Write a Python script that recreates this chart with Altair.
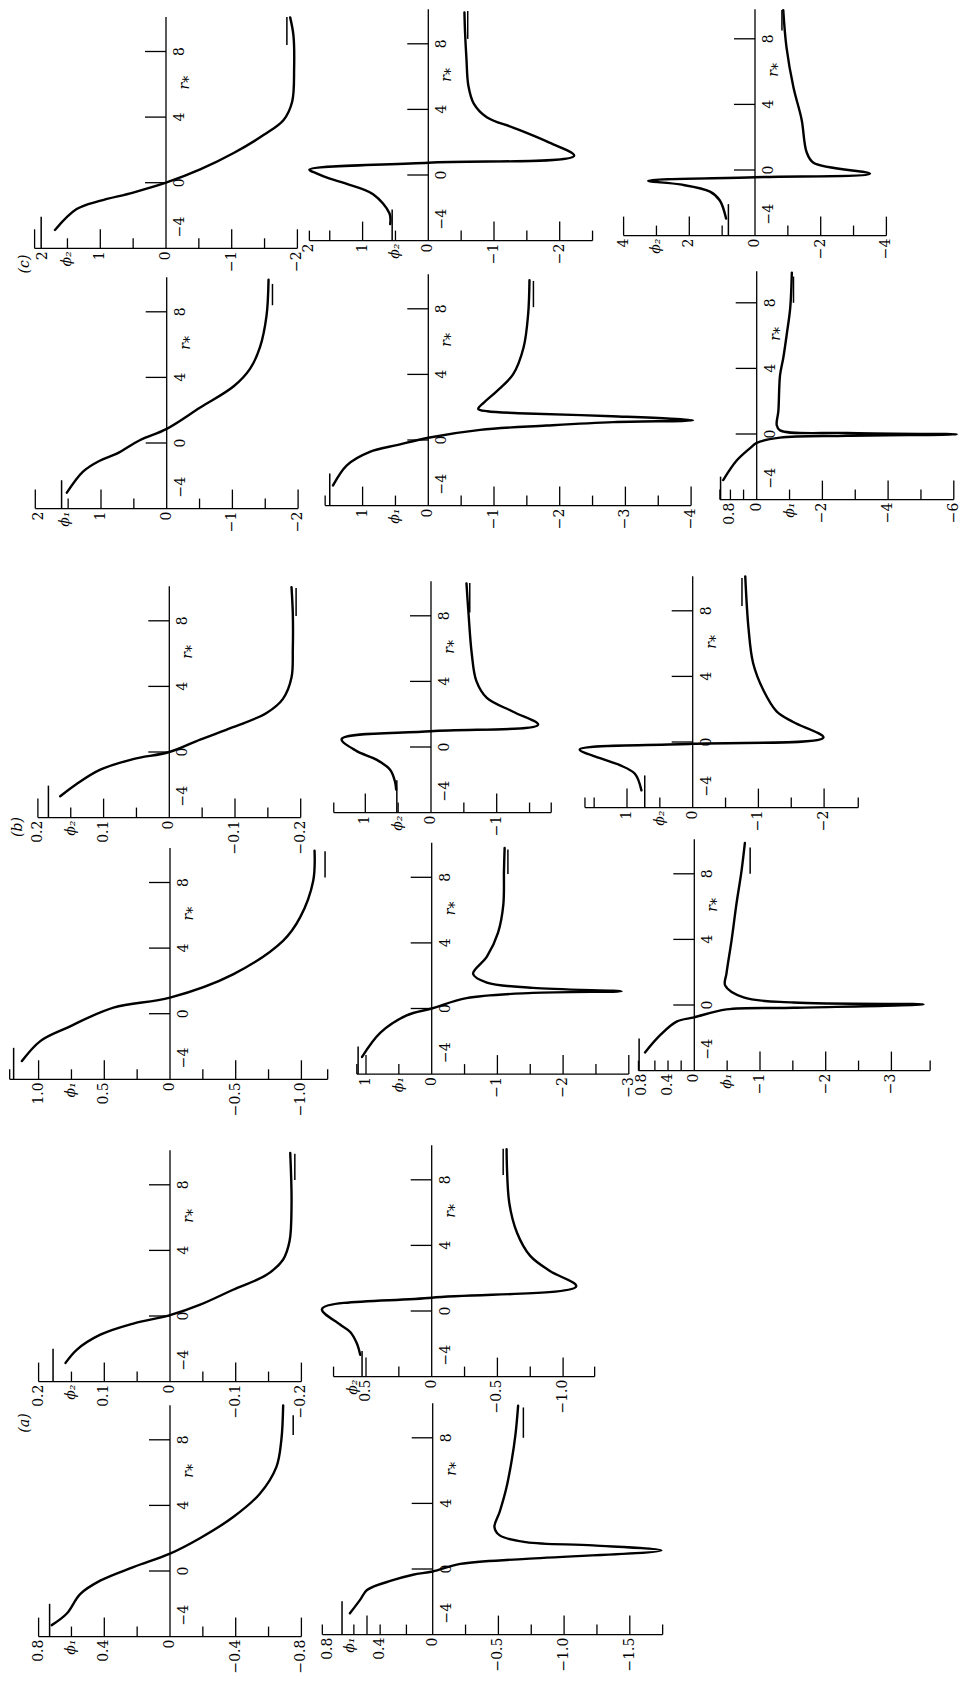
import altair as alt
import pandas as pd

# ------------------------------------------------------------------
# Values.  Panel names: <group><phi index>_<column>
# e.g. c2_1 = group (c), phi_2, first column.  r = r*, phi = phi value.
# ------------------------------------------------------------------

# ---- group (c), phi_2 row ----
c2_1_r = [-2.88, -1.61, -1.11, -0.60, 0.0, 0.81, 1.81, 2.92, 3.83, 4.94, 6.96, 8.97, 10.08]
c2_1_phi = [1.69, 1.36, 1.01, 0.50, 0.0, -0.52, -1.03, -1.49, -1.79, -1.92, -1.95, -1.94, -1.89]
c2_1_major = [2, 1, -1, -2]
c2_1_minor = [1.5, 0.5, -0.5, -1.5]
c2_1_span = [2, -2]
c2_1_lab = [1.87, 1, 0, -1, -2]
c2_1_txt = ["2", "1", "0", "−1", "−2"]
c2_1_title = 1.5
c2_1_asym = [1.90, -1.84]

c2_2_r = [-2.99, -2.35, -1.17, -0.53, -0.21, 0.11, 0.32, 0.75, 1.17, 2.03, 2.88, 3.52, 4.37, 5.44, 7.14, 8.64, 9.91]
c2_2_phi = [0.58, 0.59, 0.84, 1.25, 1.51, 1.71, 1.81, 0.0, -2.22, -1.81, -1.30, -0.89, -0.69, -0.61, -0.58, -0.56, -0.55]
c2_2_major = [1, -1, -2]
c2_2_minor = [1.81, 1.5, 0.5, -0.5, -1.5, -2.5]
c2_2_span = [1.81, -2.5]
c2_2_lab = [1.81, 1, 0, -1, -2]
c2_2_txt = ["2", "1", "0", "−1", "−2"]
c2_2_title = 0.5
c2_2_asym = [0.55, -0.60]

c2_3_r = [-2.96, -1.86, -1.32, -0.88, -0.66, -0.44, -0.22, 0.44, 1.10, 3.07, 5.04, 7.46, 9.75]
c2_3_phi = [0.88, 1.07, 1.37, 2.28, 3.25, 0.0, -3.50, -1.78, -1.57, -1.42, -1.17, -0.96, -0.86]
c2_3_major = [4, 2, -2, -4]
c2_3_minor = [3, 1, -1, -3]
c2_3_span = [4, -4]
c2_3_lab = [4, 2, 0, -2, -4]
c2_3_txt = ["4", "2", "0", "−2", "−4"]
c2_3_title = 3
c2_3_asym = [0.81, -0.82]

# ---- group (c), phi_1 row ----
c1_1_r = [-3.03, -1.73, -1.08, -0.65, 0.17, 0.86, 2.16, 3.46, 4.54, 5.84, 7.78, 9.95]
c1_1_phi = [1.52, 1.27, 1.02, 0.76, 0.41, 0.0, -0.51, -1.02, -1.27, -1.42, -1.52, -1.55]
c1_1_major = [2, 1, -1, -2]
c1_1_minor = [1.5, 0.5, -0.5, -1.5]
c1_1_span = [2, -2]
c1_1_lab = [1.94, 1, 0, -1, -2]
c1_1_txt = ["2", "1", "0", "−1", "−2"]
c1_1_title = 1.55
c1_1_asym = [1.60, -1.61]

c1_2_r = [-2.77, -1.54, -0.72, -0.31, 0.14, 0.62, 0.88, 1.09, 1.2, 1.45, 1.62, 1.75, 1.9, 2.3, 2.97, 4.0, 5.64, 7.69, 9.74]
c1_2_phi = [1.45, 1.24, 0.89, 0.48, 0.0, -0.79, -1.8, -2.82, -4.03, -2.8, -1.5, -0.9, -0.76, -0.85, -1.04, -1.29, -1.45, -1.52, -1.54]
c1_2_major = [1, -1, -2, -3, -4]
c1_2_minor = [1.57, 0.5, -0.5, -1.5, -2.5, -3.5]
c1_2_span = [1.57, -4]
c1_2_lab = [1, 0, -1, -2, -3, -4]
c1_2_txt = ["1", "0", "−1", "−2", "−3", "−4"]
c1_2_title = 0.5
c1_2_asym = [1.50, -1.60]

c1_3_r = [-2.81, -1.62, -0.86, -0.54, -0.22, -0.11, -0.02, 0.06, 0.22, 0.54, 1.41, 3.57, 4.65, 6.16, 7.68, 9.84]
c1_3_phi = [1.02, 0.61, 0.20, 0.0, -0.71, -2.75, -6.1, -2.75, -0.71, -0.61, -0.66, -0.71, -0.81, -0.92, -1.02, -1.07]
c1_3_major = [-2, -4, -6]
c1_3_minor = [1.12, 0.8, 0.4, -1, -3, -5]
c1_3_span = [1.12, -6]
c1_3_lab = [0.8, 0, -2, -4, -6]
c1_3_txt = ["0.8", "0", "−2", "−4", "−6"]
c1_3_title = -1
c1_3_asym = [1.10, -1.12]

# ---- group (b), phi_2 row ----
b2_1_r = [-2.70, -1.95, -1.08, -0.43, 0.0, 0.76, 1.51, 2.38, 3.24, 4.54, 6.27, 8.43, 10.05]
b2_1_phi = [0.166, 0.141, 0.105, 0.055, 0.0, -0.047, -0.097, -0.148, -0.173, -0.186, -0.188, -0.188, -0.186]
b2_1_major = [0.2, 0.1, -0.1, -0.2]
b2_1_minor = [0.15, 0.05, -0.05, -0.15]
b2_1_span = [0.2, -0.2]
b2_1_lab = [0.2, 0.1, 0, -0.1, -0.2]
b2_1_txt = ["0.2", "0.1", "0", "−0.1", "−0.2"]
b2_1_title = 0.15
b2_1_asym = [0.184, -0.193]

b2_2_r = [-2.6, -2.13, -1.40, -0.77, -0.25, 0.48, 0.96, 1.36, 2.15, 2.99, 4.03, 5.70, 8.20, 9.98]
b2_2_phi = [0.53, 0.547, 0.62, 0.83, 1.13, 1.36, 0.0, -1.63, -1.25, -0.85, -0.69, -0.62, -0.57, -0.54]
b2_2_major = [1, -1]
b2_2_minor = [1.48, 0.5, -0.5, -1.5, -1.83]
b2_2_span = [1.48, -1.83]
b2_2_lab = [1, 0, -1]
b2_2_txt = ["1", "0", "−1"]
b2_2_title = 0.5
b2_2_asym = [0.52, -0.59]

b2_3_r = [-2.95, -1.94, -1.41, -0.99, -0.46, -0.11, 0.27, 1.22, 1.85, 3.12, 4.80, 6.91, 10.1]
b2_3_phi = [0.78, 0.88, 1.11, 1.41, 1.72, 0.0, -1.99, -1.53, -1.28, -1.08, -0.92, -0.85, -0.80]
b2_3_major = [1, -1, -2]
b2_3_minor = [1.64, 1.5, 0.5, -0.5, -1.5, -2.52]
b2_3_span = [1.64, -2.52]
b2_3_lab = [1, 0, -1, -2]
b2_3_txt = ["1", "0", "−1", "−2"]
b2_3_title = 0.5
b2_3_asym = [0.73, -0.75]

# ---- group (b), phi_1 row ----
b1_1_r = [-2.89, -1.67, -0.86, 0.37, 0.98, 2.40, 4.44, 5.87, 8.11, 9.94]
b1_1_phi = [1.127, 0.987, 0.785, 0.43, 0.0, -0.48, -0.86, -0.99, -1.09, -1.10]
b1_1_major = [1.0, 0.5, -0.5, -1.0]
b1_1_minor = [1.22, 0.75, 0.25, -0.25, -0.75, -1.2]
b1_1_span = [1.22, -1.2]
b1_1_lab = [1.0, 0.5, 0, -0.5, -1.0]
b1_1_txt = ["1.0", "0.5", "0", "−0.5", "−1.0"]
b1_1_title = 0.75
b1_1_asym = [1.19, -1.18]

b1_2_r = [-2.95, -1.47, -0.42, 0.0, 0.63, 0.95, 1.05, 1.26, 1.58, 2.11, 3.16, 4.63, 6.32, 8.42, 9.79]
b1_2_phi = [1.06, 0.78, 0.38, 0.0, -0.53, -1.54, -2.89, -1.54, -0.84, -0.63, -0.84, -1.01, -1.09, -1.10, -1.11]
b1_2_major = [1, -1, -2, -3]
b1_2_minor = [1.14, 0.5, -0.5, -1.5, -2.5]
b1_2_span = [1.14, -3]
b1_2_lab = [1, 0, -1, -2, -3]
b1_2_txt = ["1", "0", "−1", "−2", "−3"]
b1_2_title = 0.5
b1_2_asym = [1.12, -1.16]

b1_3_r = [-2.89, -1.84, -1.01, -0.75, -0.27, -0.17, 0.04, 0.15, 0.46, 1.19, 1.93, 4.02, 6.12, 8.21, 9.88]
b1_3_phi = [0.75, 0.52, 0.27, 0.0, -0.49, -1.51, -3.49, -1.51, -0.75, -0.47, -0.49, -0.57, -0.64, -0.72, -0.77]
b1_3_major = [-1, -2, -3]
b1_3_minor = [0.85, 0.6, 0.4, 0.2, -0.5, -1.5, -2.5, -3.59]
b1_3_span = [0.85, -3.59]
b1_3_lab = [0.8, 0.4, 0, -1, -2, -3]
b1_3_txt = ["0.8", "0.4", "0", "−1", "−2", "−3"]
b1_3_title = -0.5
b1_3_asym = [0.84, -0.85]

# ---- group (a), phi_2 row ----
a2_1_r = [-2.86, -2.06, -1.14, -0.46, 0.05, 0.69, 1.60, 2.51, 3.43, 4.57, 6.86, 9.94]
a2_1_phi = [0.159, 0.142, 0.106, 0.056, 0.0, -0.046, -0.096, -0.147, -0.172, -0.182, -0.185, -0.183]
a2_1_major = [0.2, 0.1, -0.1, -0.2]
a2_1_minor = [0.15, 0.05, -0.05, -0.15]
a2_1_span = [0.2, -0.2]
a2_1_lab = [0.2, 0.1, 0, -0.1, -0.2]
a2_1_txt = ["0.2", "0.1", "0", "−0.1", "−0.2"]
a2_1_title = 0.15
a2_1_asym = [0.178, -0.19]

a2_2_r = [-2.67, -1.97, -1.28, -0.81, 0.12, 0.81, 1.51, 2.44, 3.36, 4.76, 6.61, 9.86]
a2_2_phi = [0.544, 0.57, 0.62, 0.70, 0.835, 0.0, -1.10, -0.90, -0.75, -0.65, -0.59, -0.57]
a2_2_major = [0.5, -0.5, -1.0]
a2_2_minor = [0.747, 0.25, -0.25, -0.75, -1.24]
a2_2_span = [0.747, -1.24]
a2_2_lab = [0.5, 0, -0.5, -1.0]
a2_2_txt = ["0.5", "0", "−0.5", "−1.0"]
a2_2_title = 0.6
a2_2_asym = [0.53, -0.544]

# ---- group (a), phi_1 row ----
a1_1_r = [-3.3, -2.59, -1.41, -0.59, 0.24, 1.06, 2.0, 3.29, 4.71, 6.35, 8.0, 10.1]
a1_1_phi = [0.72, 0.628, 0.547, 0.425, 0.223, 0.0, -0.182, -0.385, -0.547, -0.648, -0.678, -0.689]
a1_1_major = [0.8, 0.4, -0.4, -0.8]
a1_1_minor = [0.6, 0.2, -0.2, -0.6]
a1_1_span = [0.8, -0.8]
a1_1_lab = [0.8, 0.4, 0, -0.4, -0.8]
a1_1_txt = ["0.8", "0.4", "0", "−0.4", "−0.8"]
a1_1_title = 0.6
a1_1_asym = [0.733, -0.75]

a1_2_r = [-2.7, -1.85, -1.28, -0.7, -0.35, -0.15, 0.31, 0.62, 1.13, 1.44, 1.64, 2.05, 2.56, 3.49, 4.92, 6.56, 8.21, 9.95]
a1_2_phi = [0.63, 0.55, 0.50, 0.31, 0.15, 0.0, -0.21, -0.71, -1.74, -1.22, -0.71, -0.51, -0.47, -0.51, -0.56, -0.60, -0.63, -0.65]
a1_2_major = [0.5, -0.5, -1.0, -1.5]
a1_2_minor = [0.84, 0.6, 0.4, 0.2, -0.25, -0.75, -1.25, -1.75]
a1_2_span = [0.84, -1.75]
a1_2_lab = [0.8, 0.4, 0, -0.5, -1.0, -1.5]
a1_2_txt = ["0.8", "0.4", "0", "−0.5", "−1.0", "−1.5"]
a1_2_title = 0.63
a1_2_asym = [0.69, -0.69]

# r* axis (shared by every panel)
RSTAR_TICKS = [0, 4, 8]
RSTAR_LAB = [8, 4, 0, -2.7]
RSTAR_TXT = ["8", "4", "0", "−4"]
RSTAR_NAME_AT = 6.1

# ------------------------------------------------------------------
# Layout (page pixels): r*-axis x, r*=0 y, px per phi unit,
# bottom-marker top (r*), top-marker r* extent
# ------------------------------------------------------------------
LAYOUT = {
    "c2_1": (166.0, 181.7, 65.7, -2.08, 8.4, 10.1),
    "c2_2": (428.3, 174.0, 65.7, -2.10, 8.3, 10.0),
    "c2_3": (755.0, 169.0, 32.85, -2.08, 8.5, 9.75),
    "c1_1": (166.7, 442.0, 65.7, -2.27, 8.4, 9.7),
    "c1_2": (428.3, 439.0, 65.7, -2.05, 8.1, 9.7),
    "c1_3": (756.7, 433.0, 32.85, -2.60, 8.0, 9.6),
    "b2_1": (169.3, 751.0, 657.0, -2.05, 8.3, 10.0),
    "b2_2": (431.0, 746.0, 65.7, -2.03, 8.2, 10.0),
    "b2_3": (692.7, 741.0, 65.7, -2.04, 8.3, 10.0),
    "b1_1": (170.0, 1012.7, 131.4, -2.08, 8.3, 9.9),
    "b1_2": (431.7, 1007.5, 65.7, -2.32, 8.2, 9.7),
    "b1_3": (694.3, 1004.0, 65.7, -2.05, 8.0, 9.6),
    "a2_1": (170.0, 1315.0, 657.0, -2.00, 8.3, 9.9),
    "a2_2": (431.7, 1310.0, 131.4, -2.44, 8.3, 9.9),
    "a1_1": (170.0, 1570.0, 164.25, -2.00, 8.3, 9.5),
    "a1_2": (432.7, 1568.0, 131.4, -1.97, 8.0, 9.85),
}
GROUP_LABELS = {"c2_1": ("(c)", 25, 263), "b2_1": ("(b)", 18, 826), "a2_1": ("(a)", 25, 1422)}

KY = 16.4
MARGIN = 8
R_AXIS_TOP = 10.1
MAJOR_LEN, MINOR_LEN, RTICK_LEN = 19, 10, 21
FONT = "DejaVu Serif"
FS = 14
COLS = [(0, 292), (292, 290), (582, 372)]
BANDS = [(0, 262), (262, 268), (530, 290), (820, 270), (1090, 300), (1390, 260)]
ROWS = [["c2_1", "c2_2", "c2_3"], ["c1_1", "c1_2", "c1_3"],
        ["b2_1", "b2_2", "b2_3"], ["b1_1", "b1_2", "b1_3"],
        ["a2_1", "a2_2", None], ["a1_1", "a1_2", None]]

G = globals()


def build_panel(name, col, band):
    L, W = COLS[col]
    T, H = BANDS[band]
    if name is None:
        blank = pd.DataFrame({"x": [0], "y": [0]})
        return alt.Chart(blank).mark_point(opacity=0).encode(
            x=alt.X("x:Q", axis=None), y=alt.Y("y:Q", axis=None)
        ).properties(width=W, height=H)

    r, phi = G[name + "_r"], G[name + "_phi"]
    major, minor = G[name + "_major"], G[name + "_minor"]
    span, asym = G[name + "_span"], G[name + "_asym"]
    lab, txt, title = G[name + "_lab"], G[name + "_txt"], G[name + "_title"]
    X0, Y0, kx, bm_top, tm0, tm1 = LAYOUT[name]
    X0c, Y0c = X0 - MARGIN, Y0 - MARGIN
    phiL, phiR = (X0c - L) / kx, (X0c - L - W) / kx
    rT, rB = (Y0c - T) / KY, (Y0c - T - H) / KY
    rtop = min(R_AXIS_TOP, rT - 0.02)
    xs = alt.Scale(domain=[phiR, phiL], reverse=True, nice=False, zero=False)
    ys = alt.Scale(domain=[rB, rT], nice=False, zero=False)

    rules = [(span[0], span[1], -4, -4, 1.3), (0, 0, -4, rtop, 1.3)]
    rules += [(t, t, -4, -4 + MAJOR_LEN / KY, 1.3) for t in major]
    rules += [(t, t, -4, -4 + MINOR_LEN / KY, 1.3) for t in minor]
    rules += [(0, RTICK_LEN / kx, t, t, 1.3) for t in RSTAR_TICKS]
    rules += [(asym[0], asym[0], -4, bm_top, 1.5), (asym[1], asym[1], tm0, tm1, 1.5)]
    rdf = pd.DataFrame(rules, columns=["x", "x2", "y", "y2", "w"])

    X = lambda f: alt.X(f, scale=xs, axis=None)
    Y = lambda f: alt.Y(f, scale=ys, axis=None)

    rule_layer = alt.Chart(rdf).mark_rule(color="black").encode(
        x=X("x:Q"), x2="x2:Q", y=Y("y:Q"), y2="y2:Q",
        strokeWidth=alt.StrokeWidth("w:Q", scale=None))

    cdf = pd.DataFrame({"r": r, "phi": phi, "i": list(range(len(r)))})
    curve = alt.Chart(cdf).mark_line(
        color="black", strokeWidth=2.4, interpolate="catmull-rom",
        strokeJoin="round", strokeCap="round").encode(
        x=X("phi:Q"), y=Y("r:Q"), order="i:Q")

    ldf = pd.DataFrame({"phi": lab, "r": [-4] * len(lab), "txt": txt})
    phi_labels = alt.Chart(ldf).mark_text(
        angle=270, align="right", baseline="middle", dx=-3,
        font=FONT, fontSize=FS, color="black").encode(
        x=X("phi:Q"), y=Y("r:Q"), text="txt:N")

    sym = "ϕ₂" if name[1] == "2" else "ϕ₁"
    tdf = pd.DataFrame({"phi": [title], "r": [-4], "txt": [sym]})
    phi_title = alt.Chart(tdf).mark_text(
        angle=270, align="right", baseline="middle", dx=-3,
        font=FONT, fontSize=FS, fontStyle="italic", color="black").encode(
        x=X("phi:Q"), y=Y("r:Q"), text="txt:N")

    rldf = pd.DataFrame({"phi": [0] * len(RSTAR_LAB), "r": RSTAR_LAB, "txt": RSTAR_TXT})
    r_labels = alt.Chart(rldf).mark_text(
        angle=270, align="center", baseline="middle", dy=14,
        font=FONT, fontSize=FS, color="black").encode(
        x=X("phi:Q"), y=Y("r:Q"), text="txt:N")

    rndf = pd.DataFrame({"phi": [0], "r": [RSTAR_NAME_AT], "txt": ["r⁎"]})
    r_name = alt.Chart(rndf).mark_text(
        angle=270, align="center", baseline="middle", dy=19,
        font=FONT, fontSize=FS, fontStyle="italic", color="black").encode(
        x=X("phi:Q"), y=Y("r:Q"), text="txt:N")

    layers = [rule_layer, curve, phi_labels, phi_title, r_labels, r_name]

    if name in GROUP_LABELS:
        gtxt, gx, gy = GROUP_LABELS[name]
        gdf = pd.DataFrame({"phi": [(X0 - gx) / kx], "r": [(Y0 - gy) / KY], "txt": [gtxt]})
        layers.append(alt.Chart(gdf).mark_text(
            angle=270, align="center", baseline="middle",
            font=FONT, fontSize=FS, fontStyle="italic", color="black").encode(
            x=X("phi:Q"), y=Y("r:Q"), text="txt:N"))

    return alt.layer(*layers).properties(width=W, height=H)


panels = []
for b, names in enumerate(ROWS):
    for c, n in enumerate(names):
        panels.append(build_panel(n, c, b))

chart = alt.concat(*panels, columns=3, spacing=0, bounds="flush").properties(
    padding=0, background="white"
).configure_view(stroke=None)

chart.save("out.html", embed_options={"renderer": "svg", "actions": False})
